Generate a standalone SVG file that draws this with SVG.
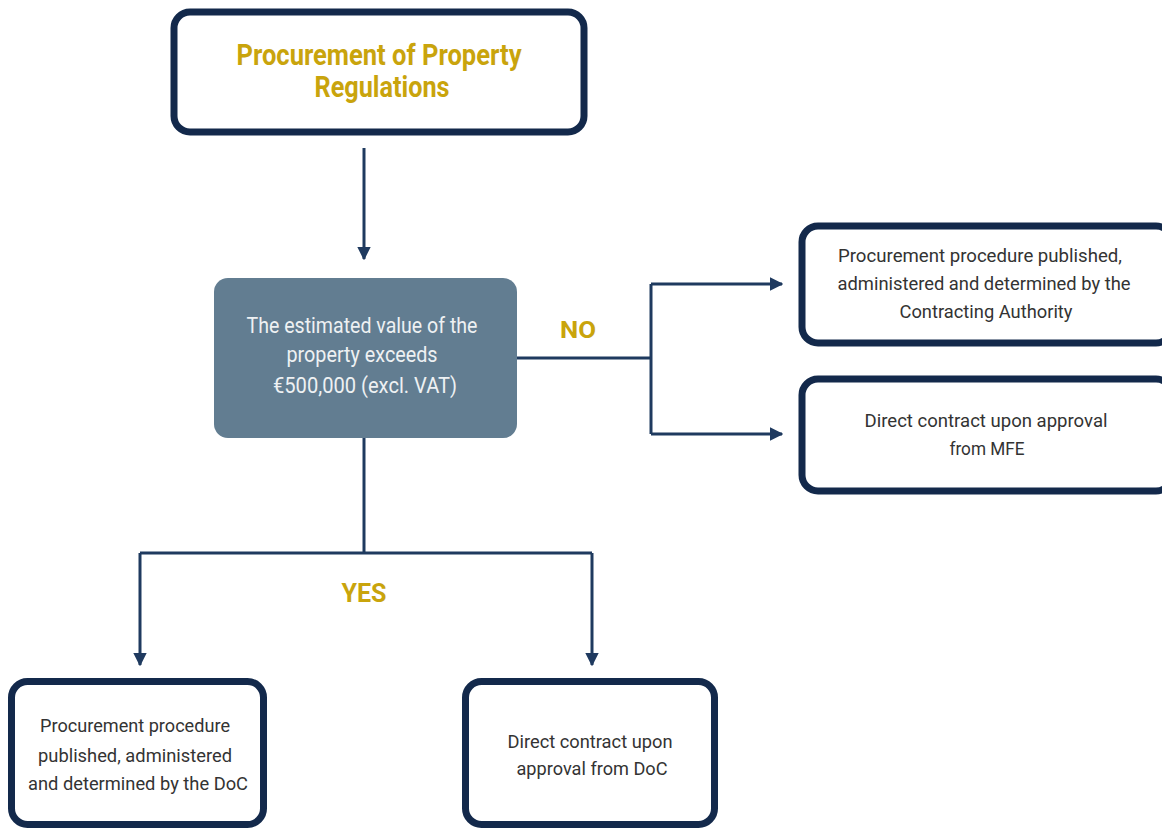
<svg xmlns="http://www.w3.org/2000/svg" width="1162" height="832" viewBox="0 0 1162 832">
<style>
.box{fill:#ffffff;stroke:#13294b;stroke-width:7}
.dec{fill:#627d91}
.t{font-family:Roboto,"Liberation Sans",sans-serif;font-size:19px;fill:#333333;text-anchor:middle}
.w{font-family:Roboto,"Liberation Sans",sans-serif;font-size:21.5px;fill:#eef1f3;text-anchor:middle}
.g{font-family:Roboto,"Liberation Sans",sans-serif;font-weight:bold;fill:#c9a40c;text-anchor:middle}
.c{fill:none;stroke:#1f3a5f;stroke-width:3}
</style>
<defs>
<marker id="ah" viewBox="0 0 10 10" refX="9" refY="5" markerWidth="4.5" markerHeight="4.5" orient="auto" markerUnits="strokeWidth">
<path d="M0,0 L10,5 L0,10 Z" fill="#1f3a5f"/>
</marker>
</defs>
<g id="connectors">
<path class="c" d="M364,148 V259" marker-end="url(#ah)"/>
<path class="c" d="M517,358 H651"/>
<path class="c" d="M651,284 V434"/>
<path class="c" d="M651,284 H782" marker-end="url(#ah)"/>
<path class="c" d="M651,434 H782" marker-end="url(#ah)"/>
<path class="c" d="M364,438 V553"/>
<path class="c" d="M140,553 H592"/>
<path class="c" d="M140,553 V665" marker-end="url(#ah)"/>
<path class="c" d="M592,553 V665" marker-end="url(#ah)"/>
<text class="g" x="578" y="338" font-size="23" textLength="36" lengthAdjust="spacingAndGlyphs">NO</text>
<text class="g" x="364" y="602" font-size="25" textLength="45" lengthAdjust="spacingAndGlyphs">YES</text>
</g>
<g id="title">
<rect class="box" x="174" y="12" width="410" height="120" rx="16"/>
<text class="g" x="379" y="65" font-size="29" textLength="285" lengthAdjust="spacingAndGlyphs">Procurement of Property</text>
<text class="g" x="382" y="97" font-size="29" textLength="135" lengthAdjust="spacingAndGlyphs">Regulations</text>
</g>
<g id="decision">
<rect class="dec" x="214" y="278" width="303" height="160" rx="14"/>
<text class="w" x="362" y="333" textLength="231" lengthAdjust="spacingAndGlyphs">The estimated value of the</text>
<text class="w" x="362" y="362" textLength="151" lengthAdjust="spacingAndGlyphs">property exceeds</text>
<text class="w" x="365" y="393" textLength="184" lengthAdjust="spacingAndGlyphs">€500,000 (excl. VAT)</text>
</g>
<g id="no1">
<rect class="box" x="802" y="226" width="370" height="117" rx="16"/>
<text class="t" x="980" y="262" textLength="284" lengthAdjust="spacingAndGlyphs">Procurement procedure published,</text>
<text class="t" x="984" y="290" textLength="293" lengthAdjust="spacingAndGlyphs">administered and determined by the</text>
<text class="t" x="986" y="318" textLength="173" lengthAdjust="spacingAndGlyphs">Contracting Authority</text>
</g>
<g id="no2">
<rect class="box" x="802" y="379" width="370" height="112" rx="16"/>
<text class="t" x="986" y="427" textLength="243" lengthAdjust="spacingAndGlyphs">Direct contract upon approval</text>
<text class="t" x="987" y="455" textLength="75" lengthAdjust="spacingAndGlyphs">from MFE</text>
</g>
<g id="yes1">
<rect class="box" x="11.5" y="681.5" width="252" height="143" rx="16"/>
<text class="t" x="135" y="732" textLength="190" lengthAdjust="spacingAndGlyphs">Procurement procedure</text>
<text class="t" x="135" y="762" textLength="194" lengthAdjust="spacingAndGlyphs">published, administered</text>
<text class="t" x="138" y="790" textLength="220" lengthAdjust="spacingAndGlyphs">and determined by the DoC</text>
</g>
<g id="yes2">
<rect class="box" x="465.5" y="681.5" width="249" height="143" rx="16"/>
<text class="t" x="590" y="748" textLength="165" lengthAdjust="spacingAndGlyphs">Direct contract upon</text>
<text class="t" x="592" y="775" textLength="151" lengthAdjust="spacingAndGlyphs">approval from DoC</text>
</g>
</svg>
